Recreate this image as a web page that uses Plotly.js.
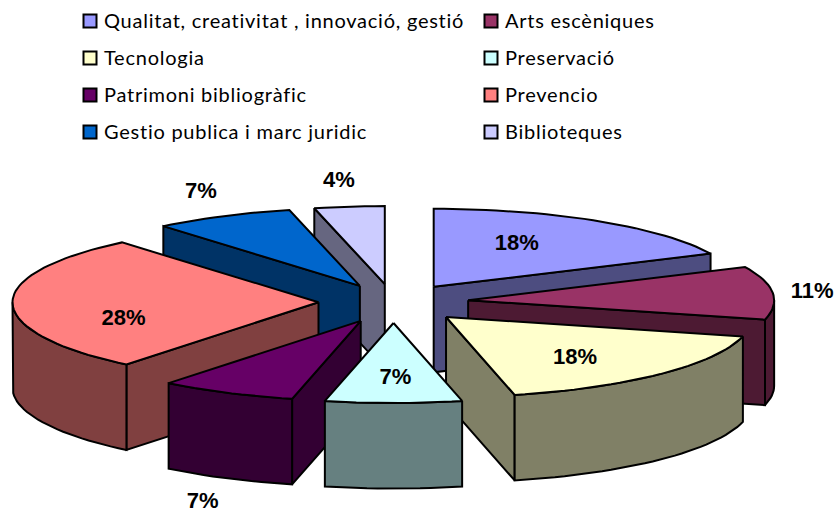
<!DOCTYPE html>
<html>
<head>
<meta charset="utf-8">
<script src="https://cdn.plot.ly/plotly-3.0.1.min.js"></script>
<style>html,body{margin:0;padding:0;background:#fff}#chart{width:834px;height:514px}
.scatterlayer .trace:last-child .textpoint text{letter-spacing:.75px}</style>
</head>
<body>
<div id="chart"></div>
<script>
// Data
var categories = ["Qualitat, creativitat , innovació, gestió","Arts escèniques","Tecnologia","Preservació","Patrimoni bibliogràfic","Prevencio","Gestio publica i marc juridic","Biblioteques"];
var shares = [18, 10.9, 17.5, 7.2, 7.2, 28.1, 7.4, 3.7];
var topColors = ["#9999FF","#993366","#FFFFCC","#CCFFFF","#660066","#FF8080","#0066CC","#CCCCFF"];
var sideColors = ["#4D4D80","#4D1A33","#808066","#668080","#330033","#804040","#003366","#666680"];

// 3D pie projection (the back half is slightly foreshortened)
var cx = 393.5, cy = 302, rx = 306, ryBack = 78, ryFront = 80, depth = 85.5, pullX = 75, pullBack = 18, pullFront = 21;
var paintOrder = [7, 6, 0, 5, 1, 4, 2, 3];
var labelOffset = [[83,-42],[344,-8],[129,42],[2,55],[-158,182],[-195,17],[-159,-93],[-46,-103]];
var legendRows = [21, 58, 95, 132], legendCols = [90, 491], legendTextGap = 14, legendTextDrop = 1.5;

var rad = function (d) { return d * Math.PI / 180; };
var total = shares.reduce(function (p, c) { return p + c; }, 0);
var slices = [], acc = 0;
shares.forEach(function (v) {
  var s = acc / total * 360, e = (acc + v) / total * 360, m = rad((s + e) / 2), c = Math.cos(m);
  slices.push({ s: s, e: e, ax: cx + pullX * Math.sin(m), ay: cy - (c > 0 ? pullBack : pullFront) * c });
  acc += v;
});
function pt(sl, deg) {
  var c = Math.cos(rad(deg));
  return [sl.ax + rx * Math.sin(rad(deg)), sl.ay - (c > 0 ? ryBack : ryFront) * c];
}
function arc(sl, a, b) {
  var out = [], n = Math.max(2, Math.ceil(Math.abs(b - a) / 2));
  for (var i = 0; i <= n; i++) out.push(pt(sl, a + (b - a) * i / n));
  return out;
}
function face(points, color) {
  var xs = points.map(function (p) { return p[0]; }), ys = points.map(function (p) { return p[1]; });
  xs.push(xs[0]); ys.push(ys[0]);
  return { type: "scatter", mode: "lines", x: xs, y: ys, fill: "toself", fillcolor: color,
           line: { color: "#000", width: 2 }, hoverinfo: "skip", showlegend: false };
}
function wall(sl, deg, color) {
  var p = pt(sl, deg);
  return face([[sl.ax, sl.ay], p, [p[0], p[1] + depth], [sl.ax, sl.ay + depth]], color);
}
var traces = [];
paintOrder.forEach(function (i) {
  var sl = slices[i];
  if (Math.sin(rad(sl.s)) < 0) traces.push(wall(sl, sl.s, sideColors[i]));
  if (Math.sin(rad(sl.e)) > 0) traces.push(wall(sl, sl.e, sideColors[i]));
  var from = Math.max(sl.s, 90), to = Math.min(sl.e, 270);
  if (to > from) {
    var top = arc(sl, from, to);
    var low = top.map(function (p) { return [p[0], p[1] + depth]; }).reverse();
    traces.push(face(top.concat(low), sideColors[i]));
  }
  traces.push(face([[sl.ax, sl.ay]].concat(arc(sl, sl.s, sl.e)), topColors[i]));
});
// Value labels
traces.push({ type: "scatter", mode: "text", hoverinfo: "skip", showlegend: false,
  x: slices.map(function (sl, i) { return sl.ax + labelOffset[i][0]; }),
  y: slices.map(function (sl, i) { return sl.ay + labelOffset[i][1]; }),
  text: shares.map(function (v) { return Math.round(v / total * 100) + "%"; }),
  textposition: "middle center",
  textfont: { family: "Liberation Sans, Arial, sans-serif", size: 22, color: "#000", weight: 700 } });
// Legend
var lx = categories.map(function (c, i) { return legendCols[i % 2]; });
var ly = categories.map(function (c, i) { return legendRows[Math.floor(i / 2)]; });
traces.push({ type: "scatter", mode: "markers", x: lx, y: ly, hoverinfo: "skip", showlegend: false,
  marker: { symbol: "square", size: 13, color: topColors, line: { color: "#000", width: 2 } } });
traces.push({ type: "scatter", mode: "text", hoverinfo: "skip", showlegend: false,
  x: lx.map(function (v) { return v + legendTextGap; }),
  y: ly.map(function (v) { return v + legendTextDrop; }), text: categories,
  textposition: "middle right",
  textfont: { family: "Lato, sans-serif", size: 20, color: "#000" } });

var layout = {
  width: 834, height: 514, margin: { l: 0, r: 0, t: 0, b: 0 },
  paper_bgcolor: "#fff", plot_bgcolor: "#fff", showlegend: false, hovermode: false,
  xaxis: { range: [0, 834], visible: false, fixedrange: true },
  yaxis: { range: [514, 0], visible: false, fixedrange: true }
};
Plotly.newPlot("chart", traces, layout, { displayModeBar: false, staticPlot: true });
</script>
</body>
</html>
